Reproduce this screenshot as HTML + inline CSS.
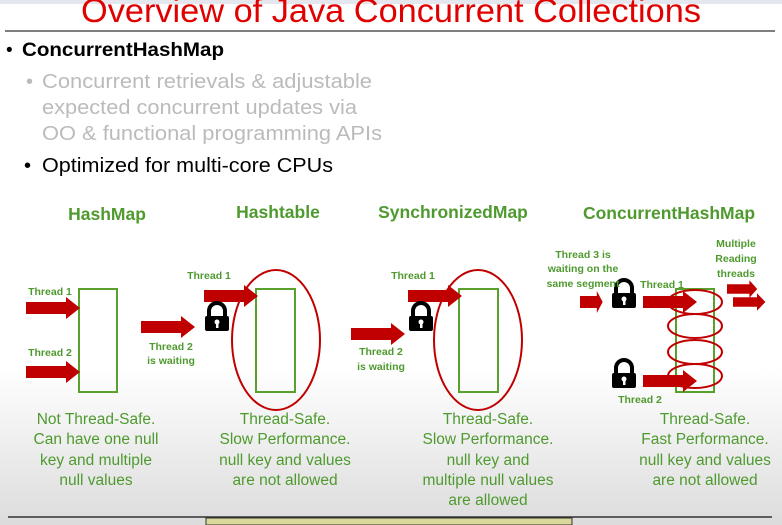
<!DOCTYPE html>
<html><head><meta charset="utf-8"><style>
html,body{margin:0;padding:0;width:782px;height:525px;overflow:hidden;font-family:"Liberation Sans",sans-serif}
</style></head><body>
<svg width="782" height="525" viewBox="0 0 782 525" xmlns="http://www.w3.org/2000/svg">
<defs>
<linearGradient id="bg" x1="0" y1="0" x2="0" y2="1">
<stop offset="0" stop-color="#fff"/><stop offset="0.7" stop-color="#fff"/><stop offset="1" stop-color="#dcdcdc"/>
</linearGradient>
<g id="arr"><path d="M0,-6 L40,-6 L40,-11 L54,0 L40,11 L40,6 L0,6 Z" fill="#c00000"/></g>
<g id="lock"><path d="M4,11 L4,6 A8,8 0 0 1 20,6 L20,11" fill="none" stroke="#000" stroke-width="4"/><rect x="0" y="11" width="24" height="15" rx="2" fill="#000"/><circle cx="12" cy="17" r="2.5" fill="#fff"/><rect x="11" y="17" width="2.5" height="6" fill="#fff"/></g>
</defs>
<rect width="782" height="525" fill="url(#bg)"/>
<rect width="782" height="4" fill="#e4e8ee"/>
<text x="391" y="22" font-size="33" fill="#e00000" text-anchor="middle" textLength="620" lengthAdjust="spacingAndGlyphs">Overview of Java Concurrent Collections</text>
<line x1="5" y1="31" x2="775" y2="31" stroke="#555" stroke-width="1.5"/>
<g font-size="19">
<text x="6" y="56">•</text><text x="22" y="56" font-weight="bold" textLength="202" lengthAdjust="spacingAndGlyphs">ConcurrentHashMap</text>
<g fill="#bbb" font-size="20"><text x="26" y="88">•</text><text x="42" y="88" textLength="330" lengthAdjust="spacingAndGlyphs">Concurrent retrievals &amp; adjustable</text>
<text x="42" y="114" textLength="315" lengthAdjust="spacingAndGlyphs">expected concurrent updates via</text><text x="42" y="140" textLength="340" lengthAdjust="spacingAndGlyphs">OO &amp; functional programming APIs</text></g>
<text x="24" y="172" font-size="20">•</text><text x="42" y="172" font-size="20" textLength="291" lengthAdjust="spacingAndGlyphs">Optimized for multi-core CPUs</text>
</g>
<g fill="#4f9a2f" font-weight="bold" font-size="17.5" text-anchor="middle">
<text x="107" y="220">HashMap</text><text x="278" y="218">Hashtable</text><text x="453" y="218">SynchronizedMap</text><text x="669" y="219">ConcurrentHashMap</text>
</g>
<g fill="none" stroke="#5aa02c" stroke-width="2">
<rect x="79" y="289" width="38" height="103"/><rect x="256" y="289" width="39" height="103"/><rect x="459" y="289" width="39" height="103"/><rect x="676" y="289" width="38" height="103"/>
</g>
<g fill="none" stroke="#c00000" stroke-width="2">
<ellipse cx="276" cy="340" rx="44" ry="70"/><ellipse cx="478" cy="340" rx="44" ry="70"/>
<ellipse cx="695" cy="302" rx="27" ry="12"/><ellipse cx="695" cy="326" rx="27" ry="12"/><ellipse cx="695" cy="352" rx="27" ry="12"/><ellipse cx="695" cy="376" rx="27" ry="12"/>
</g>
<use href="#arr" transform="translate(26,308)"/>
<use href="#arr" transform="translate(26,372)"/>
<use href="#arr" transform="translate(141,327)"/>
<use href="#arr" transform="translate(204,296)"/>
<use href="#arr" transform="translate(351,334)"/>
<use href="#arr" transform="translate(408,296)"/>
<use href="#arr" transform="translate(580,302) scale(0.42,1)"/>
<use href="#arr" transform="translate(643,302)"/>
<use href="#arr" transform="translate(643,381)"/>
<use href="#arr" transform="translate(727,289) scale(0.56,0.8)"/>
<use href="#arr" transform="translate(733,302) scale(0.6,0.8)"/>
<use href="#lock" transform="translate(205,305)"/>
<use href="#lock" transform="translate(409,305)"/>
<use href="#lock" transform="translate(612,282)"/>
<use href="#lock" transform="translate(612,362)"/>
<g fill="#4f9a2f" font-weight="bold" font-size="10.5" text-anchor="middle">
<text x="50" y="295">Thread 1</text><text x="50" y="356">Thread 2</text>
<text x="171" y="350">Thread 2</text><text x="171" y="364">is waiting</text>
<text x="209" y="279">Thread 1</text>
<text x="381" y="355">Thread 2</text><text x="381" y="370">is waiting</text>
<text x="413" y="279">Thread 1</text>
<text x="583" y="258">Thread 3 is</text><text x="583" y="272">waiting on the</text><text x="583" y="287">same segment</text>
<text x="662" y="288">Thread 1</text>
<text x="736" y="247">Multiple</text><text x="736" y="262">Reading</text><text x="736" y="277">threads</text>
<text x="640" y="403">Thread 2</text>
</g>
<g fill="#4f9a2f" font-size="15.5" text-anchor="middle">
<text x="96" y="424">Not Thread-Safe.</text><text x="96" y="444">Can have one null</text><text x="96" y="465">key and multiple</text><text x="96" y="485">null values</text>
<text x="285" y="424">Thread-Safe.</text><text x="285" y="444">Slow Performance.</text><text x="285" y="465">null key and values</text><text x="285" y="485">are not allowed</text>
<text x="488" y="424">Thread-Safe.</text><text x="488" y="444">Slow Performance.</text><text x="488" y="465">null key and</text><text x="488" y="485">multiple null values</text><text x="488" y="505">are allowed</text>
<text x="705" y="424">Thread-Safe.</text><text x="705" y="444">Fast Performance.</text><text x="705" y="465">null key and values</text><text x="705" y="485">are not allowed</text>
</g>
<line x1="8" y1="517" x2="772" y2="517" stroke="#333" stroke-width="1.5"/>
<rect x="206" y="518" width="366" height="7" fill="#d8d89a" stroke="#333" stroke-width="1"/>
</svg>
</body></html>
